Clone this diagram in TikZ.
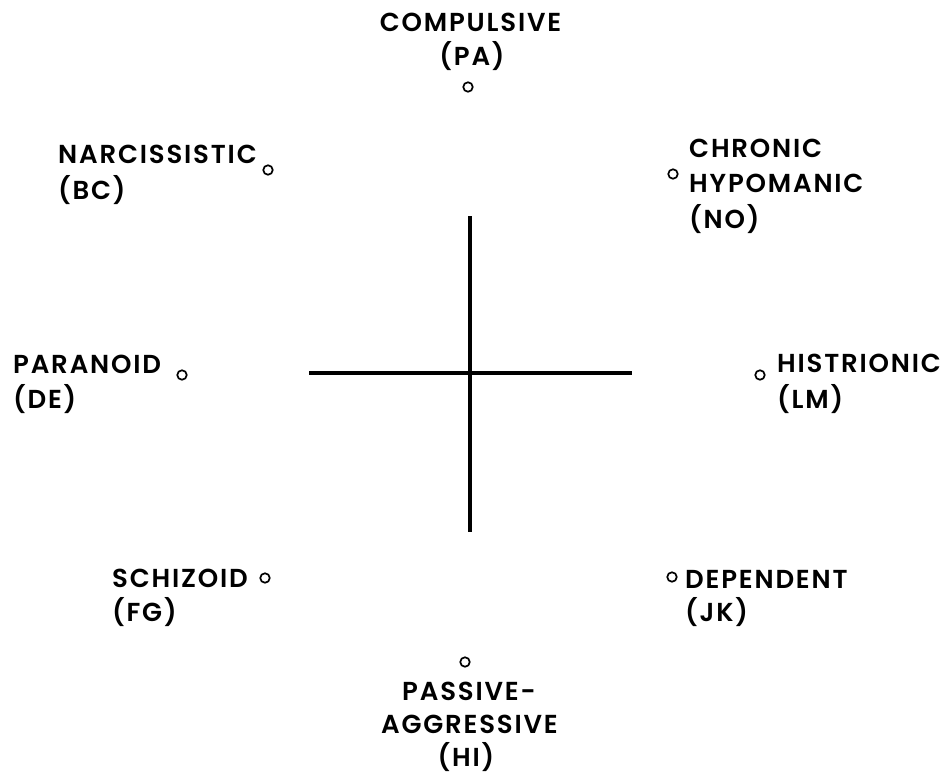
\documentclass[tikz,border=0pt]{standalone}
\usepackage{fontspec}
\setmainfont{Poppins}[UprightFont=* SemiBold, LetterSpace=7]
\begin{document}
\begin{tikzpicture}[x=1pt,y=-1pt,
  lbl/.style={inner sep=0pt, font=\fontsize{26}{32}\selectfont, text=black},
  dot/.style={circle, draw=black, line width=1.7pt, minimum size=9.5pt, inner sep=0pt},
  axis/.style={line width=3.2pt, draw=black}]
\useasboundingbox (0,0) rectangle (949,774);
% axes
\coordinate (vt) at (470,216);
\coordinate (vb) at (470,532);
\coordinate (hl) at (309,373);
\coordinate (hr) at (632,373);
\draw[axis] (vt) -- (vb);
\draw[axis] (hl) -- (hr);
% compulsive
\node[lbl, anchor=base] (pa1) at (470.5,31) {COMPULSIVE};
\node[lbl, anchor=base] (pa2) at (472,65) {(PA)};
\node[dot] (pa) at (468,87) {};
% narcissistic
\node[lbl, anchor=base west] (bc1) at (58,163) {NARCISSISTIC};
\node[lbl, anchor=base west] (bc2) at (58,199) {(BC)};
\node[dot] (bc) at (268,170) {};
% chronic hypomanic
\node[lbl, anchor=base west] (no1) at (689,157) {CHRONIC};
\node[lbl, anchor=base west] (no2) at (689,192) {HYPOMANIC};
\node[lbl, anchor=base west] (no3) at (689,228) {(NO)};
\node[dot] (no) at (673,174) {};
% paranoid
\node[lbl, anchor=base west] (de1) at (13,373) {PARANOID};
\node[lbl, anchor=base west] (de2) at (13,408) {(DE)};
\node[dot] (de) at (182,375) {};
% histrionic
\node[lbl, anchor=base west] (lm1) at (777,372) {HISTRIONIC};
\node[lbl, anchor=base west] (lm2) at (777,408) {(LM)};
\node[dot] (lm) at (760,375) {};
% schizoid
\node[lbl, anchor=base west] (fg1) at (112,587) {SCHIZOID};
\node[lbl, anchor=base west] (fg2) at (112,621) {(FG)};
\node[dot] (fg) at (265,578) {};
% dependent
\node[lbl, anchor=base west] (jk1) at (685,588) {DEPENDENT};
\node[lbl, anchor=base west] (jk2) at (685,621) {(JK)};
\node[dot] (jk) at (672,577) {};
% passive-aggressive
\node[dot] (hi) at (465,662) {};
\node[lbl, anchor=base] (hi1) at (469,700) {PASSIVE-};
\node[lbl, anchor=base] (hi2) at (469.5,733) {AGGRESSIVE};
\node[lbl, anchor=base] (hi3) at (466,766) {(HI)};
\end{tikzpicture}
\end{document}
